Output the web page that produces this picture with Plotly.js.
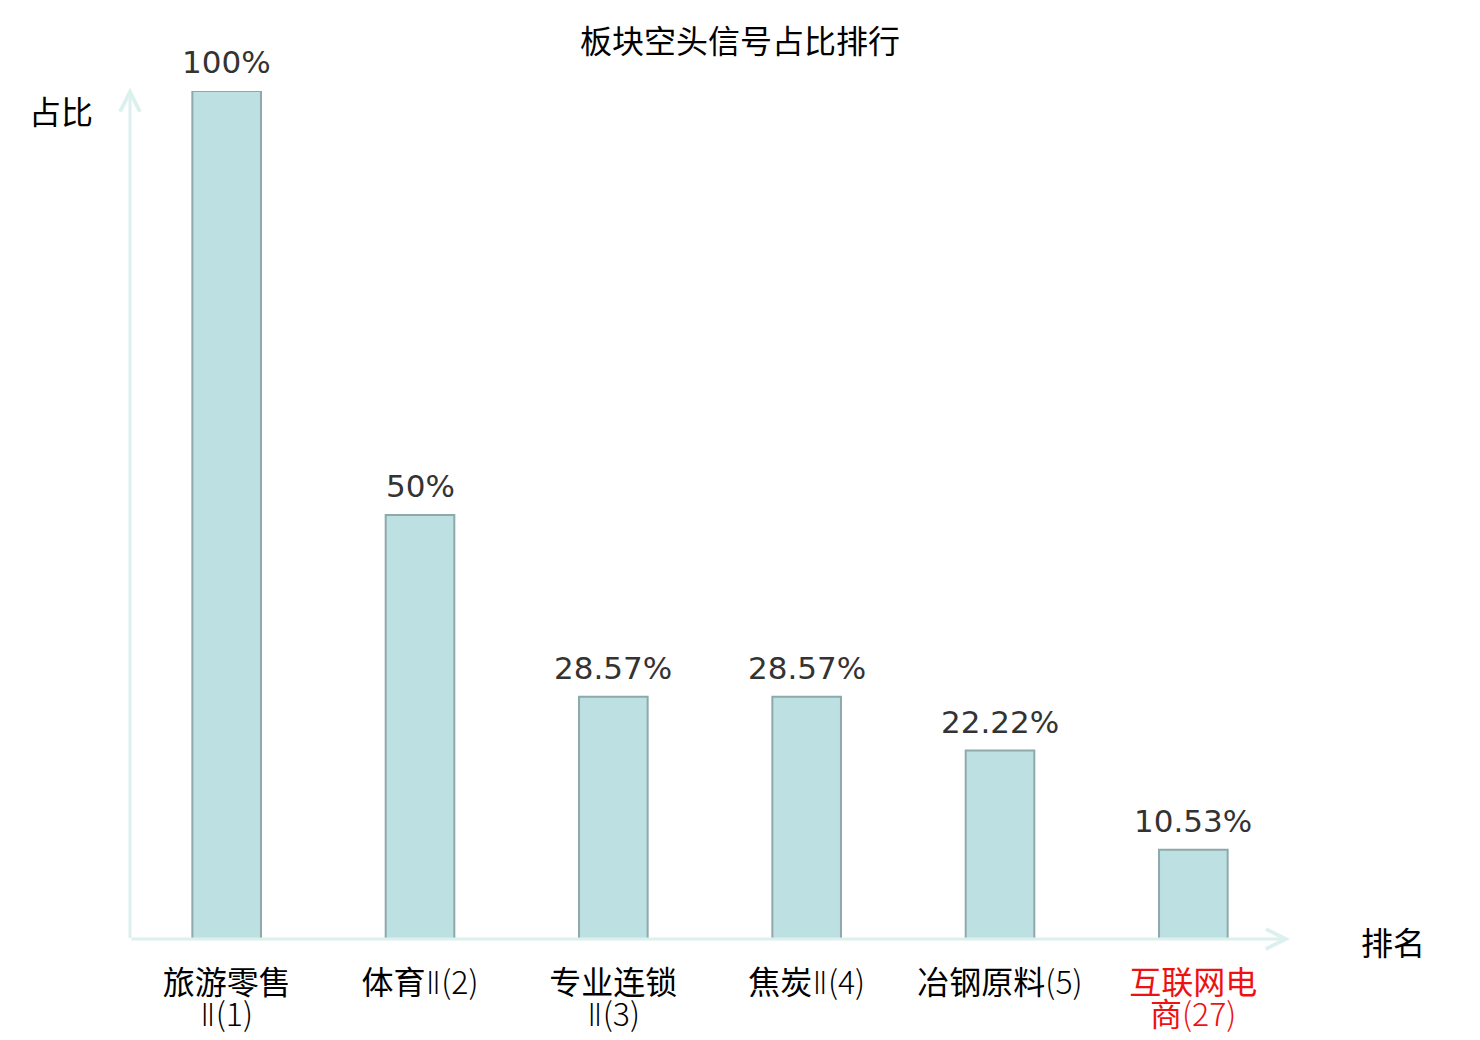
<!DOCTYPE html>
<html>
<head>
<meta charset="utf-8">
<script src="https://cdn.plot.ly/plotly-3.0.1.min.js"></script>
<style>html,body{margin:0;padding:0;background:#fff;}#chart{width:1480px;height:1040px;}</style>
</head>
<body>
<div id="chart"></div>
<script>
// ---- data ----
var categories = ['旅游零售Ⅱ(1)', '体育Ⅱ(2)', '专业连锁Ⅱ(3)', '焦炭Ⅱ(4)', '冶钢原料(5)', '互联网电商(27)'];
var tickLine1 = ['旅游零售', '体育Ⅱ(2)', '专业连锁', '焦炭Ⅱ(4)', '冶钢原料(5)', '互联网电'];
var tickLine2 = ['Ⅱ(1)', '', 'Ⅱ(3)', '', '', '商(27)'];
var highlighted = [false, false, false, false, false, true];
var values = [100, 50, 28.57, 28.57, 22.22, 10.53];
var valueLabels = ['100%', '50%', '28.57%', '28.57%', '22.22%', '10.53%'];

var RED = '#ee1111';
var AXIS = '#dcf1ee';
var CJK = '"Noto Sans CJK SC", "Noto Sans", sans-serif';
var LAT = '"DejaVu Sans", sans-serif';
var TICK_SIZE = 32;

function fmt(t, i) {
  if (!t) return '';
  var s = t.replace(/[()0-9]+/g, function (m) {
    return '<span style="font-weight:300">' + m + '</span>';
  }).replace(/Ⅱ/g, function (m) {
    return '<span style="font-family:\'Noto Sans\',\'DejaVu Sans\';font-weight:300">' + m + '</span>';
  });
  if (highlighted[i]) s = '<span style="color:' + RED + '">' + s + '</span>';
  return s;
}

var trace = {
  type: 'bar',
  x: categories,
  y: values,
  width: 0.355,
  marker: { color: '#bde0e3', line: { color: '#8ea9aa', width: 2 } },
  hoverinfo: 'x+y'
};

var annotations = categories.map(function (c, i) {
  return {
    x: c, y: values[i], xref: 'x', yref: 'y',
    text: valueLabels[i], showarrow: false,
    yanchor: 'bottom', yshift: 9,
    font: { family: LAT, size: 31, color: '#333333' }
  };
});

// second lines of the wrapped category labels
categories.forEach(function (c, i) {
  if (!tickLine2[i]) return;
  annotations.push({
    x: c, xref: 'x', y: 0, yref: 'paper', yanchor: 'top', yshift: -48,
    text: fmt(tickLine2[i], i), showarrow: false,
    font: { family: CJK, size: TICK_SIZE, color: highlighted[i] ? RED : '#000000' }
  });
});

// axis arrows
annotations.push({
  xref: 'paper', yref: 'paper', x: 1, y: 0, ax: -1160, ay: 0, axref: 'pixel', ayref: 'pixel',
  showarrow: true, arrowhead: 5, arrowsize: 1.3, arrowwidth: 3, arrowcolor: AXIS, text: '', standoff: 0
});
annotations.push({
  xref: 'paper', yref: 'paper', x: 0, y: 1.004, ax: 0, ay: 852, axref: 'pixel', ayref: 'pixel',
  showarrow: true, arrowhead: 5, arrowsize: 1.3, arrowwidth: 3, arrowcolor: AXIS, text: '', standoff: 0
});
// axis titles
annotations.push({
  xref: 'paper', yref: 'paper', x: 0, y: 1, xanchor: 'right', yanchor: 'middle',
  xshift: -35, yshift: -19, showarrow: false, text: '占比',
  font: { family: CJK, size: 32, color: '#000000' }
});
annotations.push({
  xref: 'paper', yref: 'paper', x: 1, y: 0, xanchor: 'left', yanchor: 'middle',
  xshift: 69, yshift: -2, showarrow: false, text: '排名',
  font: { family: CJK, size: 32, color: '#000000' }
});

var layout = {
  width: 1480, height: 1040,
  margin: { l: 130, r: 190, t: 91, b: 101, pad: 0 },
  paper_bgcolor: '#ffffff', plot_bgcolor: '#ffffff',
  showlegend: false,
  title: {
    text: '板块空头信号占比排行',
    x: 0.5, xanchor: 'center', y: 1 - 42 / 1040, yanchor: 'middle', yref: 'container',
    font: { family: CJK, size: 32, color: '#000000' }
  },
  xaxis: {
    type: 'category',
    range: [-0.5, 5.5],
    tickmode: 'array', tickvals: categories, ticktext: tickLine1.map(fmt),
    showline: false, showgrid: false, zeroline: false, ticks: '',
    ticklabelstandoff: 22,
    tickfont: { family: CJK, size: TICK_SIZE, color: '#000000' },
    fixedrange: true
  },
  yaxis: {
    range: [0, 100],
    showline: false, showgrid: false, zeroline: false, showticklabels: false, ticks: '',
    fixedrange: true
  },
  annotations: annotations
};

Plotly.newPlot('chart', [trace], layout, { displayModeBar: false, staticPlot: true });
</script>
</body>
</html>
